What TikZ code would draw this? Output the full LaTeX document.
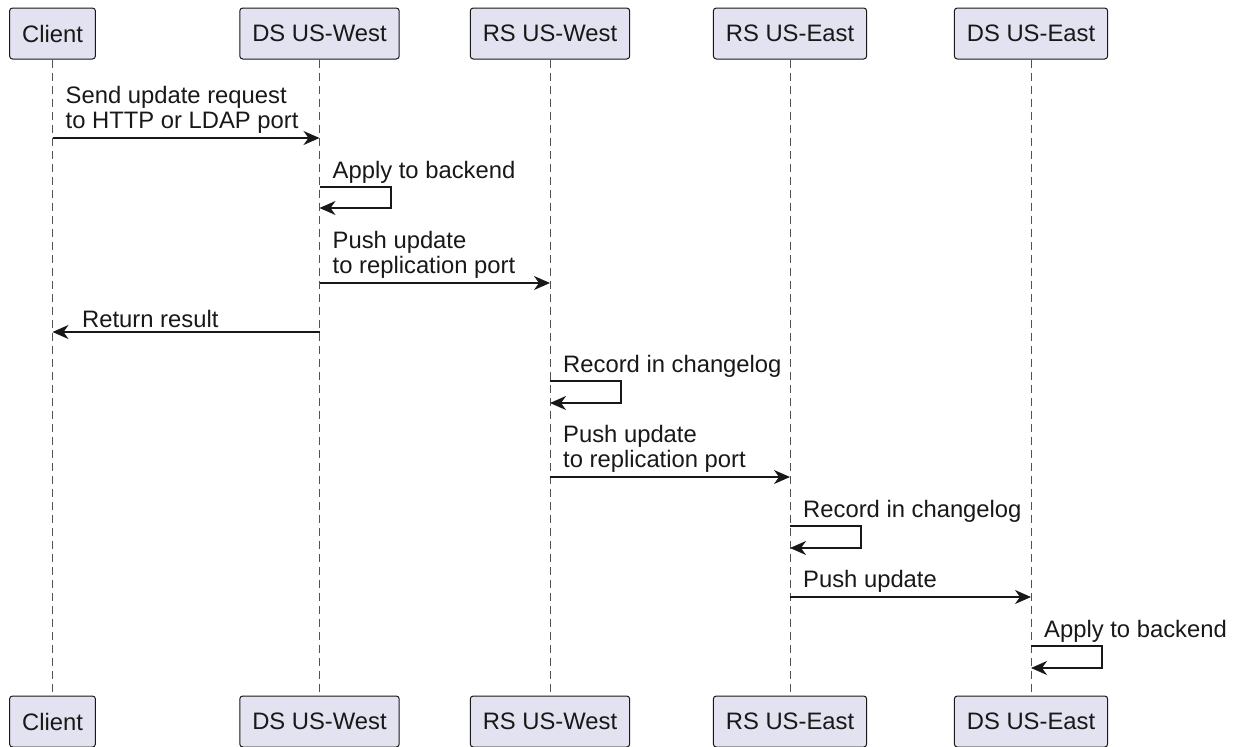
\documentclass[tikz,border=0pt]{standalone}
\usepackage{fontspec}
\setmainfont{Liberation Sans}
\usetikzlibrary{arrows.meta}
\definecolor{boxfill}{HTML}{E2E2F0}
\definecolor{ink}{HTML}{181818}
\tikzset{
  actor/.style={draw=ink, fill=boxfill, line width=1pt, rounded corners=3pt, minimum height=51pt, inner xsep=12.5pt, inner ysep=0pt, font=\fontsize{23.8}{28}\selectfont, text=ink},
  life/.style={draw=ink!75, line width=1pt, dash pattern=on 8pt off 5pt},
  msg/.style={draw=ink, line width=1.5pt, -{Stealth[length=16pt, width=14pt, inset=5pt]}},
  lbl/.style={font=\fontsize{23.8}{25.5}\selectfont, text=ink, align=left, inner sep=0pt, anchor=south west}
}
\begin{document}
\begin{tikzpicture}[x=1pt, y=-1pt]
\useasboundingbox (0,0) rectangle (1237,747);
% participants top
\node[actor] (c1) at (52.5,33.5) {Client};
\node[actor] (dw1) at (319.5,33.5) {DS US-West};
\node[actor] (rw1) at (550,33.5) {RS US-West};
\node[actor] (re1) at (790,33.5) {RS US-East};
\node[actor] (de1) at (1031,33.5) {DS US-East};
% participants bottom
\node[actor] (c2) at (52.5,721.5) {Client};
\node[actor] (dw2) at (319.5,721.5) {DS US-West};
\node[actor] (rw2) at (550,721.5) {RS US-West};
\node[actor] (re2) at (790,721.5) {RS US-East};
\node[actor] (de2) at (1031,721.5) {DS US-East};
% lifelines
\foreach \a/\b in {c1/c2, dw1/dw2, rw1/rw2, re1/re2, de1/de2}
  \draw[life] (\a.south) -- (\b.north);
% message anchor points
\coordinate (m1s) at (52.5,138); \coordinate (m1e) at (319.5,138);
\coordinate (m2a) at (319.5,187); \coordinate (m2b) at (391,187); \coordinate (m2c) at (391,208); \coordinate (m2d) at (319.5,208);
\coordinate (m3s) at (319.5,283); \coordinate (m3e) at (550,283);
\coordinate (m4s) at (319.5,332); \coordinate (m4e) at (52.5,332);
\coordinate (m5a) at (550,381); \coordinate (m5b) at (621,381); \coordinate (m5c) at (621,403); \coordinate (m5d) at (550,403);
\coordinate (m6s) at (550,477); \coordinate (m6e) at (790,477);
\coordinate (m7a) at (790,526); \coordinate (m7b) at (861,526); \coordinate (m7c) at (861,548); \coordinate (m7d) at (790,548);
\coordinate (m8s) at (790,597); \coordinate (m8e) at (1031,597);
\coordinate (m9a) at (1031,646); \coordinate (m9b) at (1102,646); \coordinate (m9c) at (1102,668); \coordinate (m9d) at (1031,668);
% messages
\draw[msg] (m1s) -- (m1e);
\node[lbl] (t1) at (65.5,134) {Send update request\\to HTTP or LDAP port};
\draw[msg] (m2a) -- (m2b) -- (m2c) -- (m2d);
\node[lbl] (t2) at (332.5,184) {Apply to backend};
\draw[msg] (m3s) -- (m3e);
\node[lbl] (t3) at (332.5,279) {Push update\\to replication port};
\draw[msg] (m4s) -- (m4e);
\node[lbl] (t4) at (82,328) {Return result};
\draw[msg] (m5a) -- (m5b) -- (m5c) -- (m5d);
\node[lbl] (t5) at (563,378) {Record in changelog};
\draw[msg] (m6s) -- (m6e);
\node[lbl] (t6) at (563,473) {Push update\\to replication port};
\draw[msg] (m7a) -- (m7b) -- (m7c) -- (m7d);
\node[lbl] (t7) at (803,523) {Record in changelog};
\draw[msg] (m8s) -- (m8e);
\node[lbl] (t8) at (803,593) {Push update};
\draw[msg] (m9a) -- (m9b) -- (m9c) -- (m9d);
\node[lbl] (t9) at (1044,643) {Apply to backend};
\end{tikzpicture}
\end{document}
